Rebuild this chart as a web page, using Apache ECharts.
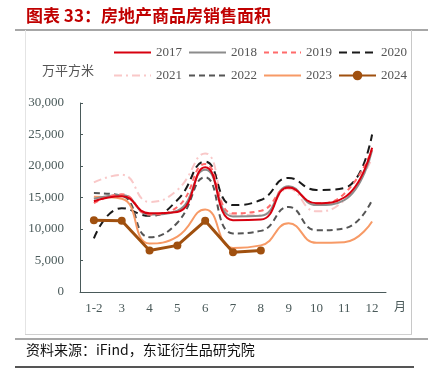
<!DOCTYPE html>
<html><head><meta charset="utf-8">
<script src="https://cdn.jsdelivr.net/npm/echarts@6/dist/echarts.min.js"></script>
<style>html,body{margin:0;padding:0;background:#fff}#c{width:433px;height:374px}</style>
</head><body><div id="c"></div>
<script>
var categories = ['1-2','3','4','5','6','7','8','9','10','11','12'];
var s2017 = [14400, 15200, 12500, 12700, 19800, 11400, 11500, 16600, 14100, 15000, 22900];
var s2018 = [14800, 15400, 12300, 12900, 19400, 12000, 12100, 16800, 13800, 14600, 22500];
var s2019 = [14100, 15500, 12300, 13500, 20300, 12500, 12900, 16500, 14100, 15600, 22600];
var s2020 = [8500, 13300, 12100, 14600, 20700, 13800, 14600, 18100, 16200, 16500, 25000];
var s2021 = [17400, 18600, 14300, 16200, 22000, 12300, 12200, 16400, 12800, 14600, 21300];
var s2022 = [15700, 15300, 8700, 11000, 18200, 9300, 9700, 13500, 9800, 10100, 14600];
var s2023 = [15100, 14800, 7700, 8800, 13100, 7000, 7400, 10900, 7800, 7900, 11200];
var s2024 = [11400, 11300, 6600, 7400, 11300, 6300, 6600];
var yTicks = [0, 5000, 10000, 15000, 20000, 25000, 30000];

var serif = '"Liberation Serif", "DejaVu Serif", serif';
var chart = echarts.init(document.getElementById('c'));
function ln(name, data, color, type, width, z) {
  return {name: name, type: 'line', data: data, smooth: true, symbol: 'none', z: z || 2,
    lineStyle: {color: color, width: width || 2, type: type || 'solid'}, itemStyle: {color: color}};
}
var series = [
  ln('2017', s2017, '#d7000f', 'solid', 2, 5),
  ln('2018', s2018, '#8c8c8c', 'solid', 2, 3),
  ln('2019', s2019, '#ff6b6b', [5, 4], 2, 4),
  ln('2020', s2020, '#1a1a1a', [8, 5], 2, 2),
  ln('2021', s2021, '#f9c8c8', [8, 4, 2, 4], 2, 1),
  ln('2022', s2022, '#555555', [6, 4], 2, 2),
  ln('2023', s2023, '#f79a66', 'solid', 2, 2),
  {name: '2024', type: 'line', data: s2024, smooth: false, symbol: 'circle', symbolSize: 8, z: 6,
    lineStyle: {color: '#a0500f', width: 3}, itemStyle: {color: '#a0500f'}}
];
function legItems(names) {
  return names.map(function (n) {
    return n === '2024' ? {name: n} : {name: n, itemStyle: {opacity: 0}};
  });
}
var legendText = {color: '#555', fontFamily: serif, fontSize: 13};
chart.setOption({
  animation: false,
  backgroundColor: '#fff',
  grid: {left: 80, right: 47, top: 103, bottom: 82},
  legend: [
    {data: legItems(['2017','2018','2019','2020']), left: 108, top: 41, itemWidth: 37, itemHeight: 12, itemGap: 6, textStyle: legendText},
    {data: legItems(['2021','2022','2023','2024']), left: 108, top: 64, itemWidth: 37, itemHeight: 12, itemGap: 6, textStyle: legendText}
  ],
  xAxis: {type: 'category', data: categories, boundaryGap: true,
    axisLine: {lineStyle: {color: '#4a5a5a', width: 1}},
    axisTick: {inside: true, length: 4, lineStyle: {color: '#4a5a5a'}},
    axisLabel: {color: '#4a5a5a', fontFamily: serif, fontSize: 13, margin: 10}},
  yAxis: {type: 'value', min: yTicks[0], max: yTicks[yTicks.length - 1], interval: 5000,
    splitLine: {show: false},
    axisLine: {show: true, lineStyle: {color: '#4a5a5a', width: 1}},
    axisTick: {show: true, inside: true, length: 3, lineStyle: {color: '#4a5a5a'}},
    axisLabel: {color: '#4a5a5a', fontFamily: serif, fontSize: 13, margin: 16,
      formatter: function (v) { return v.toLocaleString('en-US'); }}},
  series: series,
  graphic: [
    {type: 'text', left: 26, top: 7, style: {text: '图表 33：房地产商品房销售面积', fill: '#c00000', font: 'bold 17px "Noto Sans CJK SC"'}},
    {type: 'line', shape: {x1: 15, y1: 30, x2: 428, y2: 30}, style: {stroke: '#8a8a8a', lineWidth: 1.5}},
    {type: 'line', shape: {x1: 25.5, y1: 30, x2: 25.5, y2: 334}, style: {stroke: '#e4e4e4', lineWidth: 1}},
    {type: 'line', shape: {x1: 411.5, y1: 30, x2: 411.5, y2: 334}, style: {stroke: '#c8c8c8', lineWidth: 1}},
    {type: 'line', shape: {x1: 25, y1: 334.5, x2: 412, y2: 334.5}, style: {stroke: '#d0d0d0', lineWidth: 1}},
    {type: 'line', shape: {x1: 15, y1: 339, x2: 428, y2: 339}, style: {stroke: '#8a8a8a', lineWidth: 1.5}},
    {type: 'line', shape: {x1: 15, y1: 367, x2: 414, y2: 367}, style: {stroke: '#555', lineWidth: 2}},
    {type: 'text', left: 42, top: 64, style: {text: '万平方米', fill: '#555', font: '13px "Noto Sans CJK SC"'}},
    {type: 'text', left: 394, top: 300, style: {text: '月', fill: '#4a5a5a', font: '12px "Noto Sans CJK SC"'}},
    {type: 'text', left: 26, top: 343, style: {text: '资料来源：iFind，东证衍生品研究院', fill: '#111', font: '14px "Noto Sans CJK SC"'}}
  ]
});
</script></body></html>
